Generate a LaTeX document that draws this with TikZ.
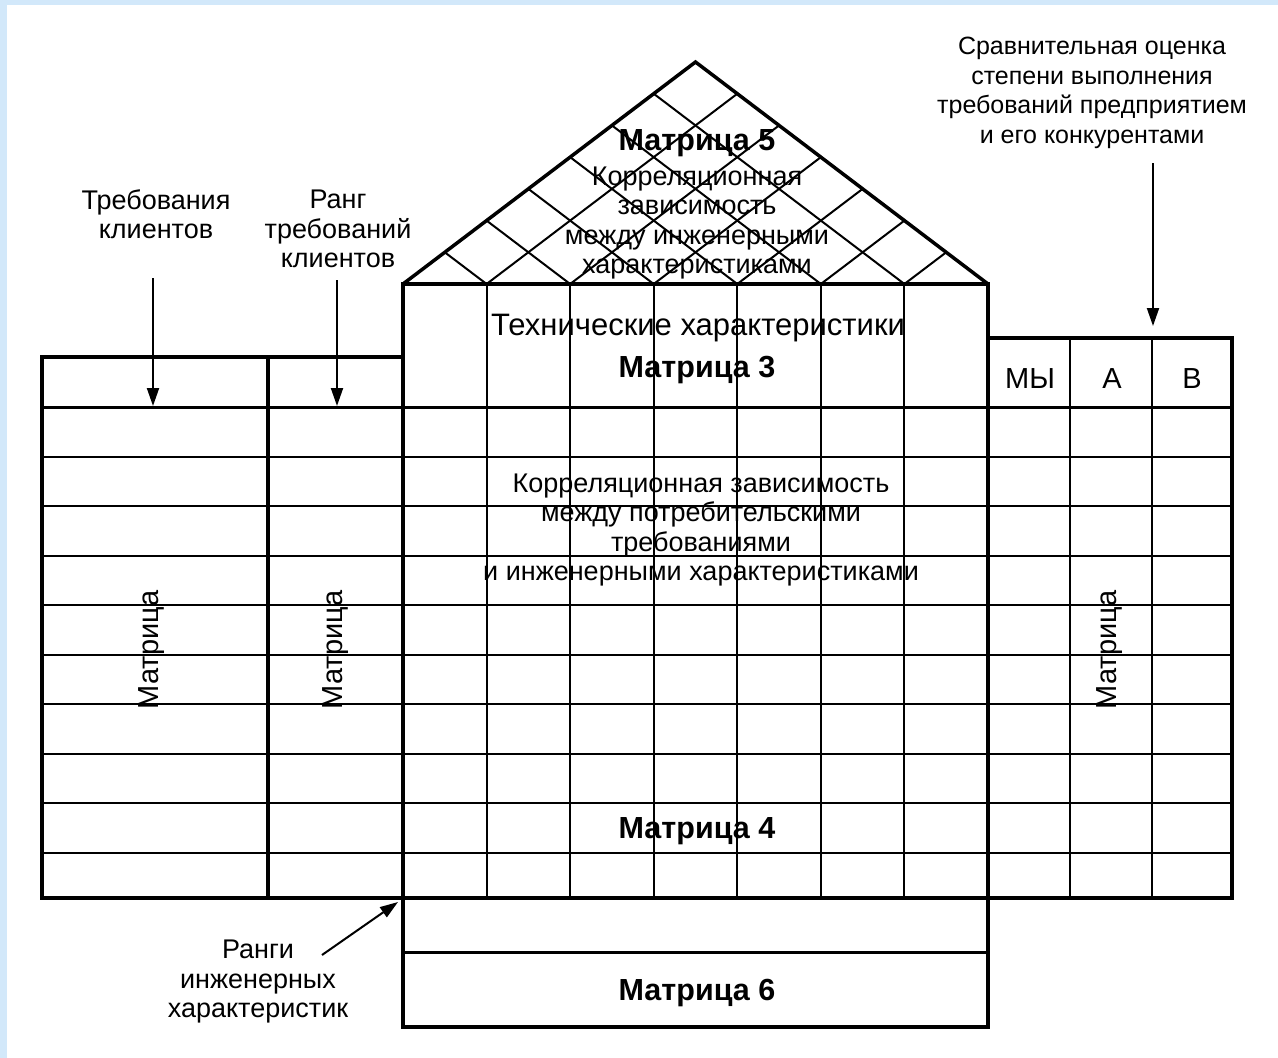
\documentclass[tikz,border=0pt]{standalone}
\usepackage{fontspec}
\setmainfont{Liberation Sans}
\usetikzlibrary{arrows.meta,calc}
\definecolor{edgeblue}{RGB}{210,232,250}
\begin{document}
\begin{tikzpicture}[x=1pt,y=-1pt,
  thickline/.style={line width=3.5pt, line join=miter},
  midline/.style={line width=3pt},
  thinline/.style={line width=2pt},
  lbl/.style={font=\fontsize{27}{29.5}\selectfont, align=center, inner sep=0pt},
  cmpl/.style={font=\fontsize{25}{29.5}\selectfont, align=center, inner sep=0pt},
  rotl/.style={font=\fontsize{29}{30}\selectfont, inner sep=0pt, rotate=90},
  hdrl/.style={font=\fontsize{29}{30}\selectfont, inner sep=0pt},
  bigl/.style={font=\fontsize{31}{32}\selectfont, inner sep=0pt},
  boldl/.style={font=\fontsize{30.5}{32}\selectfont\bfseries, inner sep=0pt},
  arr/.style={line width=2pt, -{Triangle[length=18pt,width=12pt]}}]
\useasboundingbox (0,0) rectangle (1278,1058);
\fill[white] (0,0) rectangle (1278,1058);
\fill[edgeblue] (0,0) rectangle (1278,5);
\fill[edgeblue] (0,0) rectangle (7,1058);

% key coordinates
\coordinate (BL) at (403,284);
\coordinate (BR) at (988,284);
\coordinate (A) at (695.5,62);

% row lines across the whole house
\foreach \y in {456.5,506,555.5,605,654.5,704,753.5,803,852.5}
  \draw[thinline] (42,\y) -- (1232,\y);
% central columns
\foreach \k in {1,...,6}
  \draw[thinline] ({403+\k*83.571},284) -- ({403+\k*83.571},898);
% right table columns
\draw[thinline] (1070,338) -- (1070,898);
\draw[thinline] (1152,338) -- (1152,898);
% header line
\draw[midline] (42,407) -- (1232,407);
% left divider
\draw[thickline] (268,357) -- (268,898);

% roof grid
\foreach \k in {1,...,6}{
  \draw[thinline] ($(BL)!\k/7!(BR)$) -- ($(BR)!{(7-\k)/7}!(A)$);
  \draw[thinline] ($(BL)!\k/7!(BR)$) -- ($(BL)!\k/7!(A)$);
}
\draw[thickline] (BL) -- (A) -- (BR);

% outer frames
\draw[thickline] (42,357) rectangle (403,898);
\draw[thickline] (403,284) rectangle (988,898);
\draw[thickline] (988,338) rectangle (1232,898);
\draw[thickline] (403,898) rectangle (988,1027);
\draw[midline] (403,952) -- (988,952);

% roof texts
\node[boldl] (m5) at (697,143) {Матрица 5};
\node[lbl] (m5t) at (697,223) {Корреляционная\\зависимость\\между инженерными\\характеристиками};

% central texts
\node[bigl] (tech) at (698,328) {Технические характеристики};
\node[boldl] (m3) at (697,370) {Матрица 3};
\node[lbl] (m4t) at (701,530) {Корреляционная зависимость\\между потребительскими\\требованиями\\и инженерными характеристиками};
\node[boldl] (m4) at (697,831) {Матрица 4};
\node[boldl] (m6) at (697,993) {Матрица 6};

% rotated labels
\node[rotl] (m1) at (152,650) {Матрица};
\node[rotl] (m2) at (336,650) {Матрица};
\node[rotl] (m7) at (1110,650) {Матрица};

% right header
\node[hdrl] (we) at (1030,379) {МЫ};
\node[hdrl] (ca) at (1112,379) {А};
\node[hdrl] (cb) at (1192,379) {В};

% outer labels
\node[lbl] (req) at (156,214) {Требования\\клиентов};
\node[lbl] (rank) at (338,229) {Ранг\\требований\\клиентов};
\node[cmpl] (cmp) at (1092,93) {Сравнительная оценка\\степени выполнения\\требований предприятием\\и его конкурентами};
\node[lbl] (erank) at (258,982) {Ранги\\инженерных\\характеристик};

% arrows
\coordinate (s1) at (153,278); \coordinate (e1) at (153,406);
\coordinate (s2) at (337,280); \coordinate (e2) at (337,406);
\coordinate (s3) at (1153,163); \coordinate (e3) at (1153,326);
\coordinate (s4) at (322,955); \coordinate (e4) at (398,902);
\draw[arr] (s1) -- (e1);
\draw[arr] (s2) -- (e2);
\draw[arr] (s3) -- (e3);
\draw[arr] (s4) -- (e4);
\end{tikzpicture}
\end{document}
